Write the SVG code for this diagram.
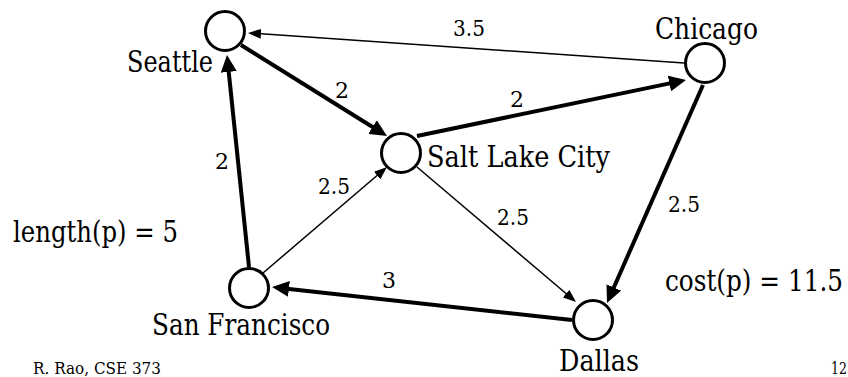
<svg xmlns="http://www.w3.org/2000/svg" width="848" height="377" viewBox="0 0 848 377">
<style>
text { font-family: 'DejaVu Serif', 'Liberation Serif', serif; fill: #000; }
.big { font-size: 29px; }
.lbl { font-size: 22px; }
.foot { font-size: 17px; }
.thick { stroke: #000; stroke-width: 4; fill: none; marker-end: url(#ahThick); }
.thin { stroke: #000; stroke-width: 1.5; fill: none; marker-end: url(#ahThin); }
.node circle { fill: #fff; stroke: #000; stroke-width: 3; }
</style>
<defs>
<marker id="ahThick" markerUnits="userSpaceOnUse" viewBox="0 0 17 16" markerWidth="17" markerHeight="16" refX="9" refY="8" orient="auto">
<path d="M0,0 L17,8 L0,16 z" fill="#000"/>
</marker>
<marker id="ahThin" markerUnits="userSpaceOnUse" viewBox="0 0 13 10" markerWidth="13" markerHeight="10" refX="8" refY="5" orient="auto">
<path d="M0,0 L13,5 L0,10 z" fill="#000"/>
</marker>
</defs>
<rect width="848" height="377" fill="#fff"/>
<g id="connectors">
<line class="thin" x1="684" y1="63" x2="253" y2="33.3"/>
<line class="thick" x1="241" y1="45" x2="380.2" y2="131.8"/>
<line class="thick" x1="417" y1="136" x2="678.2" y2="81.6"/>
<line class="thick" x1="703" y1="85" x2="610.2" y2="295.7"/>
<line class="thin" x1="417" y1="167" x2="572.2" y2="298.8"/>
<line class="thick" x1="572" y1="320" x2="280" y2="287.9"/>
<line class="thick" x1="249" y1="267" x2="227.8" y2="63"/>
<line class="thin" x1="263" y1="273" x2="383.2" y2="170.3"/>
<text class="lbl" x="453" y="36" textLength="32" lengthAdjust="spacingAndGlyphs">3.5</text>
<text class="lbl" x="335" y="98">2</text>
<text class="lbl" x="510" y="107">2</text>
<text class="lbl" x="215" y="169">2</text>
<text class="lbl" x="318" y="194" textLength="32" lengthAdjust="spacingAndGlyphs">2.5</text>
<text class="lbl" x="382" y="288">3</text>
<text class="lbl" x="497" y="225" textLength="32" lengthAdjust="spacingAndGlyphs">2.5</text>
<text class="lbl" x="668" y="212" textLength="32" lengthAdjust="spacingAndGlyphs">2.5</text>
</g>
<g id="seattle" class="node">
<circle cx="225" cy="31" r="19.5"/>
<text class="big" x="127" y="72" textLength="86" lengthAdjust="spacingAndGlyphs">Seattle</text>
</g>
<g id="chicago" class="node">
<circle cx="705" cy="63" r="19.5"/>
<text class="big" x="655" y="39" textLength="103" lengthAdjust="spacingAndGlyphs">Chicago</text>
</g>
<g id="saltlakecity" class="node">
<circle cx="401" cy="153" r="19.5"/>
<text class="big" x="427" y="167" textLength="183" lengthAdjust="spacingAndGlyphs">Salt Lake City</text>
</g>
<g id="sanfrancisco" class="node">
<circle cx="249" cy="288" r="19.5"/>
<text class="big" x="152" y="335" textLength="178" lengthAdjust="spacingAndGlyphs">San Francisco</text>
</g>
<g id="dallas" class="node">
<circle cx="593" cy="320" r="19.5"/>
<text class="big" x="559" y="371" textLength="80" lengthAdjust="spacingAndGlyphs">Dallas</text>
</g>
<text class="big" x="13" y="242" textLength="165" lengthAdjust="spacingAndGlyphs">length(p) = 5</text>
<text class="big" x="665" y="291" textLength="178" lengthAdjust="spacingAndGlyphs">cost(p) = 11.5</text>
<text class="foot" x="33" y="374" textLength="128" lengthAdjust="spacingAndGlyphs">R. Rao, CSE 373</text>
<text class="foot" x="831" y="374" textLength="16" lengthAdjust="spacingAndGlyphs">12</text>
</svg>
